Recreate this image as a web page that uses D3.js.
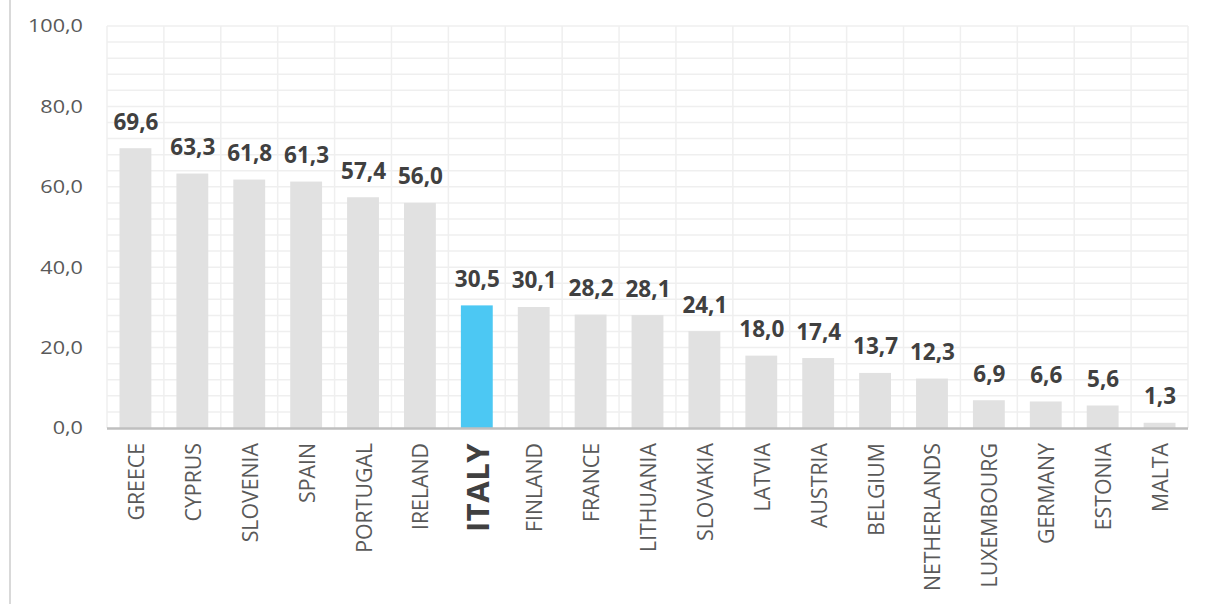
<!DOCTYPE html>
<html><head><meta charset="utf-8">
<script src="https://cdn.jsdelivr.net/npm/d3@7"></script>
<style>
html,body{margin:0;padding:0;background:#fff;}
svg{display:block;}
</style></head>
<body>
<svg id="chart" width="1205" height="604"></svg>
<script>
const categories = ["GREECE","CYPRUS","SLOVENIA","SPAIN","PORTUGAL","IRELAND","ITALY","FINLAND","FRANCE","LITHUANIA","SLOVAKIA","LATVIA","AUSTRIA","BELGIUM","NETHERLANDS","LUXEMBOURG","GERMANY","ESTONIA","MALTA"];
const values = [69.6,63.3,61.8,61.3,57.4,56.0,30.5,30.1,28.2,28.1,24.1,18.0,17.4,13.7,12.3,6.9,6.6,5.6,1.3];
const yTicks = [0,20,40,60,80,100];
const highlight = "ITALY";

(function(){
const svg = d3.select("#chart");
const pL = 107, pR = 1188, pT = 26, pB = 428;
const fmt = v => d3.format(".1f")(v).replace(".", ",");

const x = d3.scaleBand().domain(categories).range([pL, pR]).paddingInner(0.44).paddingOuter(0.22);
const xb = d3.scaleBand().domain(categories).range([pL, pR]).padding(0);
const y = d3.scaleLinear().domain([0, 100]).range([pB, pT]);

// outer frame line
svg.append("line").attr("x1", 10).attr("x2", 10).attr("y1", 0).attr("y2", 604)
  .attr("stroke", "#d9d9d9").attr("stroke-width", 2);

// horizontal gridlines (every 4)
const g = svg.append("g");
g.selectAll("line.h").data(d3.range(4, 101, 4)).join("line")
  .attr("x1", pL).attr("x2", pR).attr("y1", d => y(d)).attr("y2", d => y(d))
  .attr("stroke", "#efefef").attr("stroke-width", 1.5);
// vertical gridlines at band boundaries
const vb = categories.map(c => xb(c)).concat([pR]);
g.selectAll("line.v").data(vb).join("line")
  .attr("x1", d => d).attr("x2", d => d).attr("y1", pT).attr("y2", pB)
  .attr("stroke", "#efefef").attr("stroke-width", 1.5);

// bars
svg.append("g").selectAll("rect").data(categories).join("rect")
  .attr("x", d => x(d)).attr("width", x.bandwidth())
  .attr("y", (d, i) => y(values[i])).attr("height", (d, i) => y(0) - y(values[i]))
  .attr("fill", d => d === highlight ? "#4cc8f3" : "#e1e1e1");

// axis line
svg.append("line").attr("x1", pL).attr("x2", pR).attr("y1", pB + 0.5).attr("y2", pB + 0.5)
  .attr("stroke", "#bfbfbf").attr("stroke-width", 2.5);

// y tick labels
svg.append("g").selectAll("text").data(yTicks).join("text")
  .attr("transform", d => `translate(83,${y(d)}) scale(1.17,1)`)
  .attr("dy", "0.35em")
  .attr("text-anchor", "end")
  .attr("font-family", "'Open Sans', sans-serif").attr("font-size", 18.5)
  .attr("fill", "#595959")
  .text(d => fmt(d));

// value labels
svg.append("g").selectAll("text").data(categories).join("text")
  .attr("x", d => x(d) + x.bandwidth() / 2 + 0.5)
  .attr("y", (d, i) => y(values[i]) - 18.5)
  .attr("text-anchor", "middle")
  .attr("font-family", "'Open Sans', sans-serif").attr("font-weight", "bold").attr("font-size", 22.5)
  .attr("fill", "#404040")
  .text((d, i) => fmt(values[i]));

// category labels
svg.append("g").selectAll("text").data(categories).join("text")
  .attr("transform", d => `translate(${x(d) + x.bandwidth() / 2},${pB + 15}) rotate(-90)`)
  .attr("text-anchor", "end").attr("dominant-baseline", "central")
  .attr("font-family", "'Open Sans', sans-serif")
  .attr("font-weight", d => d === highlight ? "bold" : "normal")
  .attr("font-size", d => d === highlight ? 31 : 21.3)
  .attr("letter-spacing", d => d === highlight ? 0.5 : 0)
  .attr("fill", d => d === highlight ? "#404040" : "#595959")
  .text(d => d);
})();
</script>
</body></html>
